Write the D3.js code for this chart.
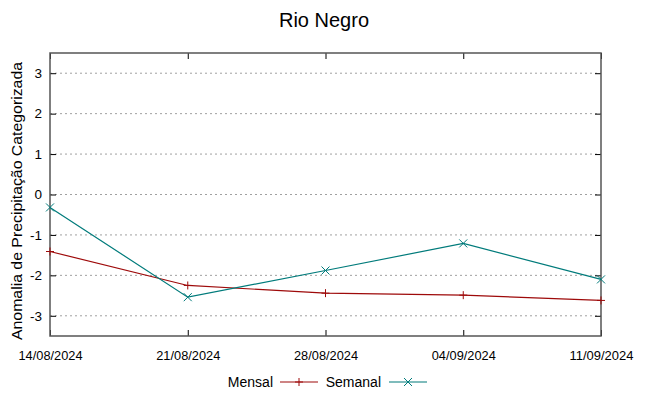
<!DOCTYPE html>
<html><head><meta charset="utf-8">
<script src="https://cdn.jsdelivr.net/npm/d3@7"></script>
<style>body{margin:0;background:#fff}svg{display:block}text{font-family:"Liberation Sans",Arial,sans-serif}</style>
</head><body><svg id="c" width="649" height="396"></svg>
<script>
const dates = ["14/08/2024","21/08/2024","28/08/2024","04/09/2024","11/09/2024"];
const mensal = [-1.41, -2.25, -2.44, -2.49, -2.62];
const semanal = [-0.32, -2.54, -1.88, -1.21, -2.10];
const yTicks = [-3,-2,-1,0,1,2,3];
const title = "Rio Negro";
const yLabel = "Anomalia de Precipitação Categorizada";
const seriesNames = ["Mensal","Semanal"];

const svg = d3.select("#c");
const L=50,R=601,T=53,B=336;
const x = d3.scalePoint().domain(dates).range([L,R]);
const y = d3.scaleLinear().domain([-3.5,3.5]).range([B,T]);

// grid
svg.append("g").selectAll("line").data(yTicks).join("line")
  .attr("x1",L).attr("x2",R).attr("y1",d=>y(d)).attr("y2",d=>y(d))
  .attr("stroke","#a0a0a0").attr("stroke-width",1).attr("stroke-dasharray","2,3");

// axes
const ya = svg.append("g").attr("transform",`translate(${L},0)`)
  .call(d3.axisLeft(y).tickValues(yTicks).tickSize(-6).tickPadding(8).tickFormat(d => d3.format("d")(d).replace("\u2212","-")));
const yr = svg.append("g").attr("transform",`translate(${R},0)`)
  .call(d3.axisRight(y).tickValues(yTicks).tickSize(-6).tickFormat(""));
const xa = svg.append("g").attr("transform",`translate(0,${B})`)
  .call(d3.axisBottom(x).tickSize(-6).tickPadding(15));
const xt = svg.append("g").attr("transform",`translate(0,${T})`)
  .call(d3.axisTop(x).tickSize(-6).tickFormat(""));
[ya,yr,xa,xt].forEach(g=>{g.select(".domain").remove();g.selectAll("line").attr("stroke","#000");});
ya.selectAll("text").attr("font-size",13.5).attr("fill","#000");
xa.selectAll("text").attr("font-size",13).attr("fill","#000")
  .attr("textLength",64).attr("lengthAdjust","spacingAndGlyphs");
svg.append("rect").attr("x",L).attr("y",T).attr("width",R-L).attr("height",B-T)
  .attr("fill","none").attr("stroke","#555").attr("stroke-width",1.5);

const colors = ["#9e0a0a","#007b7b"];
const data = [mensal, semanal];
const line = d3.line().x((d,i)=>x(dates[i])).y(d=>y(d));
data.forEach((s,k)=>{
  svg.append("path").datum(s).attr("d",line).attr("fill","none").attr("stroke",colors[k]).attr("stroke-width",1.2);
  const g = svg.append("g");
  s.forEach((v,i)=>{
    const cx=x(dates[i]), cy=y(v), r=4;
    if(k===0){
      g.append("path").attr("d",`M${cx-r},${cy}H${cx+r}M${cx},${cy-r}V${cy+r}`).attr("stroke",colors[k]).attr("stroke-width",1);
    } else {
      g.append("path").attr("d",`M${cx-r},${cy-r}L${cx+r},${cy+r}M${cx-r},${cy+r}L${cx+r},${cy-r}`).attr("stroke",colors[k]).attr("stroke-width",1);
    }
  });
});

svg.append("text").attr("x",324).attr("y",27).attr("text-anchor","middle").attr("font-size",20).text(title);
svg.append("text").attr("transform","translate(22,201) rotate(-90)").attr("text-anchor","middle").attr("font-size",15)
  .attr("textLength",278).attr("lengthAdjust","spacingAndGlyphs").text(yLabel);

// legend
const leg = [{x:273,lx:280,lw:38},{x:381,lx:389,lw:38}];
seriesNames.forEach((n,k)=>{
  svg.append("text").attr("x",leg[k].x).attr("y",387).attr("text-anchor","end").attr("font-size",14).text(n);
  const ly=382, mx=leg[k].lx+leg[k].lw/2;
  svg.append("line").attr("x1",leg[k].lx).attr("x2",leg[k].lx+leg[k].lw).attr("y1",ly).attr("y2",ly).attr("stroke",colors[k]).attr("stroke-width",1.2);
  const r=4;
  svg.append("path").attr("d", k===0?`M${mx-r},${ly}H${mx+r}M${mx},${ly-r}V${ly+r}`:`M${mx-r},${ly-r}L${mx+r},${ly+r}M${mx-r},${ly+r}L${mx+r},${ly-r}`).attr("stroke",colors[k]).attr("stroke-width",1);
});
</script></body></html>
